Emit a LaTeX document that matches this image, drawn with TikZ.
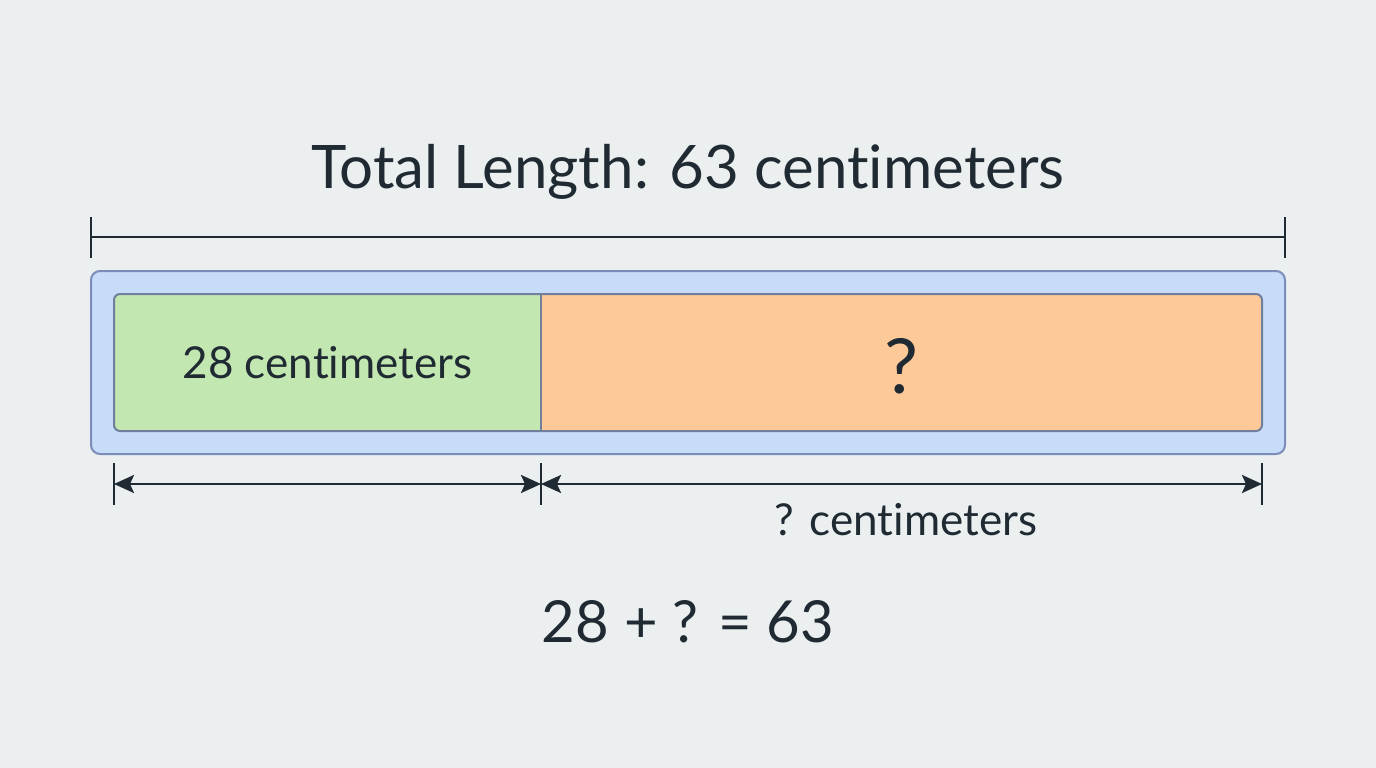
\documentclass[tikz,border=0pt]{standalone}
\usepackage{fontspec}
\setmainfont{Lato}[Ligatures=NoCommon]
\usepackage{tikz}
\usetikzlibrary{arrows.meta, positioning, calc}
\definecolor{bgcol}{HTML}{ECEFEF}
\definecolor{inkcol}{HTML}{1F2A33}
\definecolor{barblue}{HTML}{C6DCF8}
\definecolor{barline}{HTML}{7A8DBA}
\definecolor{partline}{HTML}{6F7F9C}
\definecolor{partgreen}{HTML}{C3E7B1}
\definecolor{partorange}{HTML}{FDC998}
\tikzstyle{dimarrow} = [line width=2.4pt, inkcol, {Stealth[length=20pt,width=18pt,inset=4pt]}-{Stealth[length=20pt,width=18pt,inset=4pt]}]

\begin{document}
\begin{tikzpicture}[x=1pt, y=-1pt,
    outerbar/.style={rectangle, rounded corners=9pt, draw=barline, line width=2pt, fill=barblue, minimum width=1194pt, minimum height=183pt},
    label/.style={text=inkcol, font=\fontsize{44}{50}\selectfont},
    tick/.style={line width=2.4pt, inkcol},
]

% Background
\fill[bgcol] (0,0) rectangle (1376,768);

% Title
\node[text=inkcol, font=\fontsize{60}{70}\selectfont] (title) at (688,172) {Total Length: 63 centimeters};

% Total dimension line
\coordinate (tl) at (91,237);
\coordinate (tr) at (1285,237);
\draw[tick] (tl) -- (tr);
\draw[tick] ($(tl)+(0,-20)$) -- ($(tl)+(0,21)$);
\draw[tick] ($(tr)+(0,-20)$) -- ($(tr)+(0,21)$);

% Outer bar
\node[outerbar] (bar) at (688,362.5) {};

% Parts
\fill[partorange, rounded corners=6pt] (114,294) rectangle (1262,431);
\begin{scope}
\clip[rounded corners=6pt] (114,294) rectangle (1262,431);
\fill[partgreen] (114,294) rectangle (541,431);
\end{scope}
\draw[partline, line width=2pt, rounded corners=6pt] (114,294) rectangle (1262,431);
\draw[partline, line width=2pt] (541,294) -- (541,431);

\node[label] (known) at (327.5,362.5) {28 centimeters};
\node[text=inkcol, font=\fontsize{76}{86}\selectfont] (unknown) at (901.5,366) {?};

% Part dimension lines
\coordinate (pa) at (114,484);
\coordinate (pb) at (541,484);
\coordinate (pc) at (1262,484);
\draw[tick] ($(pa)+(0,-21)$) -- ($(pa)+(0,21)$);
\draw[tick] ($(pb)+(0,-21)$) -- ($(pb)+(0,21)$);
\draw[tick] ($(pc)+(0,-21)$) -- ($(pc)+(0,21)$);
\draw[dimarrow] (pa) -- (pb);
\draw[dimarrow] (pb) -- (pc);

\node[label] (unknownlen) at (906,520) {? centimeters};

% Equation
\node[text=inkcol, font=\fontsize{58}{68}\selectfont] (eq) at (688,622) {28 + ? = 63};

\end{tikzpicture}
\end{document}
